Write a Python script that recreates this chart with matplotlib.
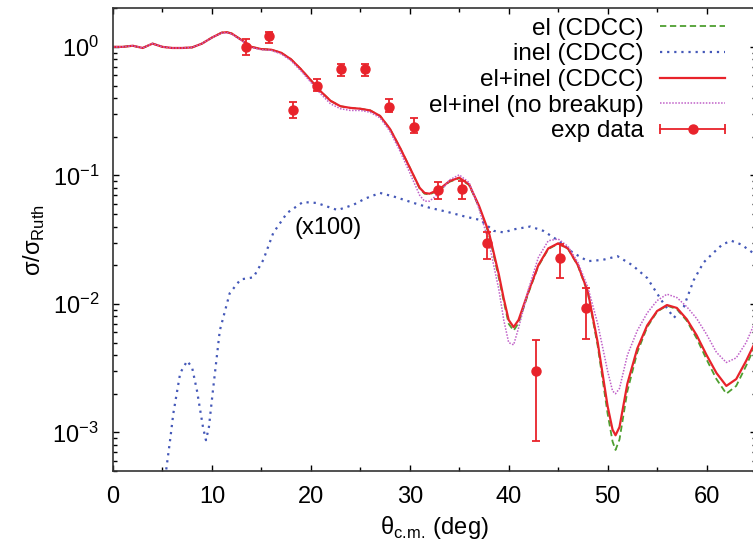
import matplotlib
matplotlib.use('Agg')
import matplotlib.pyplot as plt
from matplotlib.lines import Line2D
from matplotlib.legend_handler import HandlerLine2D, HandlerTuple

matplotlib.rcParams['font.family'] = ['Liberation Sans', 'DejaVu Sans']
matplotlib.rcParams['mathtext.fontset'] = 'custom'
matplotlib.rcParams['mathtext.rm'] = 'Liberation Sans'
matplotlib.rcParams['axes.unicode_minus'] = False

# el+inel (CDCC)
theta_tot = [0, 1, 2, 3, 4, 5, 6, 7, 8, 9, 10, 11, 11.5, 12, 13, 14, 15, 16, 17, 18, 19, 20,
             21, 22, 23, 24, 25, 26, 27, 28, 29, 30, 31, 31.5, 32, 33, 34, 35, 36, 37, 38,
             39, 39.5, 40, 40.5, 41, 42, 43, 44, 45, 46, 47, 48, 49, 50, 50.5, 50.8, 51.2,
             52, 53, 54, 55, 56, 57, 58, 59, 60, 61, 62, 63, 64, 65]
sig_tot = [1.0, 1.0, 1.02, 0.98, 1.06, 1.0, 0.98, 0.98, 0.99, 1.06, 1.18, 1.29, 1.30, 1.27,
           1.13, 1.0, 0.96, 0.95, 0.90, 0.80, 0.67, 0.55, 0.45, 0.38, 0.345, 0.335, 0.33,
           0.32, 0.29, 0.23, 0.165, 0.115, 0.080, 0.073, 0.072, 0.078, 0.090, 0.096, 0.085,
           0.058, 0.036, 0.017, 0.011, 0.0075, 0.0066, 0.0075, 0.0125, 0.020, 0.027, 0.0296,
           0.027, 0.020, 0.0125, 0.0050, 0.0016, 0.00105, 0.00095, 0.0011, 0.0024, 0.0045,
           0.0068, 0.0088, 0.0098, 0.0093, 0.0076, 0.0057, 0.0040, 0.0029, 0.0023, 0.0026,
           0.0036, 0.0052]

# el (CDCC)
sig_el = [1.0, 1.0, 1.02, 0.98, 1.06, 1.0, 0.98, 0.98, 0.99, 1.06, 1.18, 1.29, 1.30, 1.27,
          1.13, 1.0, 0.96, 0.95, 0.90, 0.80, 0.67, 0.55, 0.45, 0.38, 0.345, 0.335, 0.33,
          0.32, 0.29, 0.23, 0.165, 0.115, 0.079, 0.072, 0.071, 0.077, 0.089, 0.095, 0.084,
          0.057, 0.035, 0.016, 0.0105, 0.0070, 0.0062, 0.0071, 0.0122, 0.0197, 0.0267, 0.0294,
          0.0268, 0.0198, 0.0122, 0.0047, 0.0014, 0.00085, 0.00073, 0.00088, 0.0021, 0.0042,
          0.0066, 0.0087, 0.0097, 0.0091, 0.0074, 0.0054, 0.0037, 0.0026, 0.0020, 0.0023,
          0.0033, 0.0049]

# el+inel (no breakup)
sig_nobu = [1.0, 1.0, 1.02, 0.98, 1.06, 1.0, 0.98, 0.98, 0.99, 1.06, 1.18, 1.28, 1.29, 1.26,
            1.12, 0.99, 0.95, 0.94, 0.88, 0.78, 0.65, 0.53, 0.43, 0.36, 0.33, 0.32, 0.32,
            0.31, 0.28, 0.22, 0.155, 0.105, 0.070, 0.063, 0.063, 0.073, 0.092, 0.101, 0.088,
            0.055, 0.030, 0.013, 0.0075, 0.0050, 0.0048, 0.0065, 0.013, 0.023, 0.031, 0.032,
            0.028, 0.021, 0.0135, 0.0070, 0.0030, 0.0021, 0.0020, 0.0022, 0.0040, 0.0062,
            0.0085, 0.0106, 0.0119, 0.0112, 0.0095, 0.0077, 0.0058, 0.0042, 0.0035, 0.0038,
            0.0050, 0.0075]

# inel (CDCC), multiplied by 100
theta_inel = [5.2, 5.8, 6.1, 6.8, 7.5, 8.0, 8.5, 9.1, 9.4, 9.7, 10.1, 10.8, 11.8, 12.9, 14.2,
              15.2, 16.2, 17.6, 19.2, 20.6, 22.7, 24.3, 25.5, 27, 28.5, 30.4, 32, 33.8,
              35.5, 37.1, 38.5, 39.5, 40.5, 42.2, 43.5, 44.9, 46.5, 48, 49.5, 51, 52.5, 54,
              55.5, 56.7, 57.7, 58.7, 59.7, 60.7, 61.6, 62.5, 63.5, 65]
sig_inel = [4.0e-4, 9e-4, 1.4e-3, 2.9e-3, 3.6e-3, 3.2e-3, 2.1e-3, 1.1e-3, 8.7e-4, 1.1e-3,
            2.1e-3, 6.2e-3, 0.0121, 0.0155, 0.0161, 0.022, 0.0356, 0.051, 0.062, 0.061,
            0.0537, 0.059, 0.066, 0.073, 0.068, 0.061, 0.056, 0.052, 0.048,
            0.045, 0.037, 0.036, 0.038, 0.040, 0.037, 0.0315, 0.025, 0.0215, 0.022, 0.0235,
            0.020, 0.0159, 0.0105, 0.0078, 0.0095, 0.0153, 0.021, 0.025, 0.029, 0.031, 0.029,
            0.024]

# experimental data
theta_exp = [13.4, 15.8, 18.2, 20.6, 23.1, 25.5, 27.9, 30.4, 32.9, 35.3, 37.8, 42.8, 45.2, 47.8]
sig_exp = [1.0, 1.21, 0.325, 0.50, 0.667, 0.667, 0.343, 0.24, 0.077, 0.078, 0.0296, 0.0030,
           0.0226, 0.0093]
err_lo = [0.14, 0.13, 0.045, 0.05, 0.077, 0.077, 0.033, 0.025, 0.012, 0.012, 0.0074, 0.00215,
          0.0067, 0.0040]
err_hi = [0.15, 0.09, 0.045, 0.06, 0.073, 0.073, 0.047, 0.04, 0.012, 0.012, 0.0064, 0.0022,
          0.0064, 0.0040]

red = '#e8232b'
green = '#4e9f30'
blue = '#4458b8'
purple = '#c060c8'

ls_el = (0, (3.5, 2))
ls_inel = (0, (1, 2.2))
ls_nobu = (0, (1, 1))

fig = plt.figure(figsize=(7.53, 5.44), dpi=100)
ax = fig.add_axes([0.150, 0.134, 0.854, 0.851])

ax.plot(theta_tot, sig_el, color=green, lw=1.3, ls=ls_el)
ax.plot(theta_inel, sig_inel, color=blue, lw=1.6, ls=ls_inel)
ax.plot(theta_tot, sig_tot, color=red, lw=1.6)
ax.plot(theta_tot, sig_nobu, color=purple, lw=1.1, ls=ls_nobu)
ax.errorbar(theta_exp, sig_exp, yerr=[err_lo, err_hi], fmt='o', color=red, ms=6.5,
            capsize=3, elinewidth=1.3, capthick=1.3)

ax.text(21.7, 0.039, '(x100)', fontsize=17, ha='center', va='center')

ax.set_yscale('log')
ax.set_xlim(0, 65)
ax.set_ylim(5e-4, 2.0)
ax.set_xticks([0, 10, 20, 30, 40, 50, 60])
ax.set_xticks([5, 15, 25, 35, 45, 55], minor=True)
ax.tick_params(which='both', direction='in', top=True, right=True, labelsize=17, width=1)
ax.tick_params(which='major', length=4.5)
ax.tick_params(which='minor', length=2.8)
ax.tick_params(axis='x', which='major', pad=11)
ax.tick_params(axis='y', which='major', pad=10)
for s in ax.spines.values():
    s.set_linewidth(1.2)
    s.set_color('#333333')

ax.set_xlabel('θ$_\\mathregular{c.\\!m.\\!}$ (deg)', fontsize=17, labelpad=4)
ax.set_ylabel('σ/σ$_\\mathregular{Ruth}$', fontsize=17, labelpad=4)

# legend in gnuplot style: right aligned text, sample on the right
h_el = Line2D([], [], color=green, lw=1.3, ls=ls_el)
h_inel = Line2D([], [], color=blue, lw=1.6, ls=ls_inel)
h_tot = Line2D([], [], color=red, lw=1.6)
h_nobu = Line2D([], [], color=purple, lw=1.1, ls=ls_nobu)
h_caps = Line2D([], [], color=red, lw=1.3, marker='|', ms=7, mew=1.3)
h_dot = Line2D([], [], color=red, lw=0, marker='o', ms=6.5)
leg = ax.legend([h_el, h_inel, h_tot, h_nobu, (h_caps, h_dot)],
                ['el (CDCC)', 'inel (CDCC)', 'el+inel (CDCC)', 'el+inel (no breakup)', 'exp data'],
                handler_map={h_caps: HandlerLine2D(numpoints=2, marker_pad=0),
                             h_dot: HandlerLine2D(numpoints=1),
                             tuple: HandlerTuple(ndivide=1)},
                loc='upper right', bbox_to_anchor=(0.978, 1.016), frameon=False,
                markerfirst=False, fontsize=17.5, handlelength=2.65, handletextpad=0.7,
                labelspacing=0.15, borderpad=0.2)

plt.savefig('out.png', dpi=100)
